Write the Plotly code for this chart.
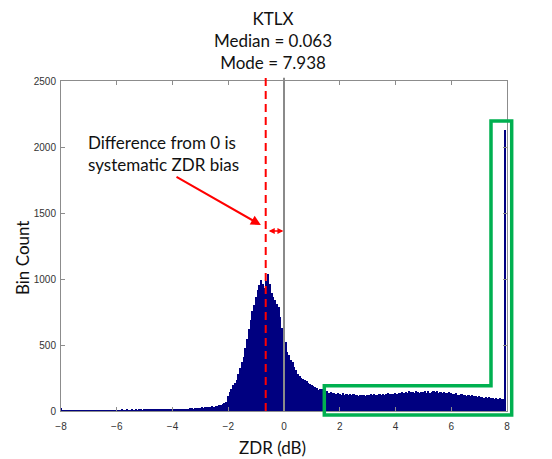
import numpy as np
import plotly.graph_objects as go

# ---- data: ZDR histogram, 1/16 dB bins starting at -8 dB ----
BIN_START = -8.0
BIN_WIDTH = 0.0625
counts = [
    22, 6, 4, 5, 3, 4, 5, 3, 4, 6, 4, 5, 3, 5, 4, 6,                      # -8 .. -7
    5, 4, 6, 5, 4, 6, 5, 7, 5, 4, 6, 5, 7, 6, 5, 6,                       # -7 .. -6
    6, 7, 5, 8, 6, 7, 8, 6, 7, 9, 7, 8, 6, 9, 8, 7,                       # -6 .. -5
    8, 9, 10, 8, 9, 11, 10, 9, 12, 10, 11, 13, 11, 12, 14, 12,            # -5 .. -4
    13, 14, 15, 13, 16, 15, 17, 16, 18, 17, 19, 20, 18, 21, 22, 24,       # -4 .. -3
    25, 27, 26, 29, 31, 30, 33, 35, 34, 37, 40, 42, 46, 52, 60, 72,       # -3 .. -2
    110, 146, 170, 197, 215, 238, 280, 323, 370, 411, 480, 545, 620, 690, 760, 803,   # -2 .. -1
    860, 917, 955, 992, 960, 930, 985, 1038, 960, 895, 860, 841, 810, 790, 715, 626,  # -1 .. 0
    570, 520, 450, 424, 390, 370, 335, 310, 280, 265, 250, 245, 235, 225, 210, 205,   # 0 .. 1
    197, 190, 184, 172, 160, 170, 165, 150, 146, 152, 140, 144, 133, 138, 128, 134,   # 1 .. 2
    130, 124, 135, 122, 128, 119, 126, 121, 130, 118, 124, 116, 122, 119, 125, 117,   # 2 .. 3
    121, 118, 126, 120, 128, 122, 119, 127, 124, 131, 125, 129, 134, 127, 132, 128,   # 3 .. 4
    136, 131, 140, 134, 145, 138, 142, 136, 148, 141, 146, 139, 150, 144, 138, 147,   # 4 .. 5
    143, 151, 140, 148, 137, 146, 152, 141, 149, 138, 144, 135, 142, 139, 133, 141,   # 5 .. 6
    136, 131, 128, 134, 125, 122, 129, 118, 124, 116, 120, 113, 118, 110, 115, 108,   # 6 .. 7
    112, 105, 109, 101, 106, 98, 103, 96, 100, 94, 97, 92, 95, 90, 88, 2130,          # 7 .. 8
]
bin_centers = BIN_START + BIN_WIDTH * np.arange(len(counts))

x_ticks = [-8, -6, -4, -2, 0, 2, 4, 6, 8]
y_ticks = [0, 500, 1000, 1500, 2000, 2500]
X_RANGE = [-8, 8]
Y_RANGE = [0, 2500]

title_text = "KTLX<br>Median = 0.063<br>Mode = 7.938"
note_text = "Difference from 0 is<br>systematic ZDR bias"
bias_x = -0.656      # peak (dashed red line)
zero_x = 0.0         # reference (grey line)
# highlight box (L shape) in data units
box_x = [1.446, 7.426, 8.168]
box_y = [-30, 192, 2197]


def px(x):
    return (x - X_RANGE[0]) / (X_RANGE[1] - X_RANGE[0])


def py(y):
    return (y - Y_RANGE[0]) / (Y_RANGE[1] - Y_RANGE[0])


TXT_FONT = "Lato, Carlito, Calibri, sans-serif"
TICK_FONT = "Liberation Sans, Arial, sans-serif"

fig = go.Figure()
fig.add_trace(go.Bar(x=bin_centers, y=counts, width=BIN_WIDTH,
                     marker=dict(color="#000080", line=dict(width=0))))

shapes = [
    dict(type="line", xref="paper", yref="paper", x0=px(zero_x), x1=px(zero_x),
         y0=0, y1=1.01, line=dict(color="#8a8a8a", width=2)),
    dict(type="line", xref="paper", yref="paper", x0=px(bias_x), x1=px(bias_x),
         y0=0, y1=1.015, line=dict(color="#ff0000", width=2, dash="8px,5px")),
    dict(type="path", xref="paper", yref="paper",
         path=(f"M {px(box_x[0])},{py(box_y[0])} L {px(box_x[0])},{py(box_y[1])} "
               f"L {px(box_x[1])},{py(box_y[1])} L {px(box_x[1])},{py(box_y[2])} "
               f"L {px(box_x[2])},{py(box_y[2])} L {px(box_x[2])},{py(box_y[0])} Z"),
         line=dict(color="#00b050", width=3.5)),
]

annotations = [
    dict(text=title_text, xref="paper", yref="paper", x=0.4753, y=1.124,
         xanchor="center", yanchor="middle", showarrow=False,
         font=dict(family=TXT_FONT, size=17, color="#111")),
    dict(text=note_text, xref="paper", yref="paper", x=0.056, y=0.779,
         xanchor="left", yanchor="middle", align="left", showarrow=False,
         font=dict(family=TXT_FONT, size=17, color="#111")),
    dict(text="Bin Count", xref="paper", yref="paper", x=-0.0874, y=0.4636,
         xanchor="center", yanchor="middle", textangle=-90, showarrow=False,
         font=dict(family=TXT_FONT, size=17, color="#111")),
    dict(text="ZDR (dB)", xref="paper", yref="paper", x=0.4753, y=-0.112,
         xanchor="center", yanchor="middle", showarrow=False,
         font=dict(family=TXT_FONT, size=17, color="#111")),
    # arrow from note to dashed line
    dict(text="", x=-0.83, y=1409, ax=-3.91, ay=1780, xref="x", yref="y",
         axref="x", ayref="y", showarrow=True, arrowhead=2, arrowsize=1,
         arrowwidth=2, arrowcolor="#ff0000"),
    # double arrow between lines
    dict(text="", x=-0.02, y=1364, ax=-0.60, ay=1364, xref="x", yref="y",
         axref="x", ayref="y", showarrow=True, arrowhead=2, startarrowhead=2,
         arrowside="end+start", arrowsize=0.8, startarrowsize=0.8,
         arrowwidth=1.5, arrowcolor="#ff0000"),
]

axis_common = dict(showline=True, linecolor="#8c8c8c", linewidth=1,
                   ticks="inside", ticklen=4, tickcolor="#8c8c8c", mirror="ticks",
                   showgrid=False, zeroline=False,
                   tickfont=dict(family=TICK_FONT, size=10, color="#333"))

fig.update_layout(
    width=552, height=459,
    margin=dict(l=61, r=45, t=81, b=48),
    paper_bgcolor="white", plot_bgcolor="white",
    showlegend=False, bargap=0,
    xaxis=dict(range=X_RANGE, tickvals=x_ticks, ticklabelstandoff=6, **axis_common),
    yaxis=dict(range=Y_RANGE, tickvals=y_ticks, ticklabelstandoff=2, **axis_common),
    shapes=shapes, annotations=annotations,
)

fig.write_html("out.html")
